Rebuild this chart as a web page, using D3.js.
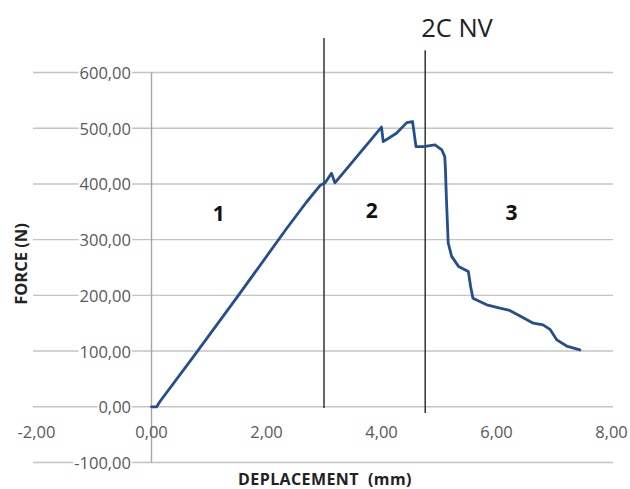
<!DOCTYPE html>
<html>
<head>
<meta charset="utf-8">
<script src="https://cdn.jsdelivr.net/npm/d3@7"></script>
<style>
  html, body { margin: 0; padding: 0; background: #fff; }
  svg { display: block; }
</style>
</head>
<body>
<svg id="chart" width="630" height="489"></svg>
<script>
// Force–displacement curve for specimen 2C NV
const displacement = [0, 0.09, 0.15, 0.73, 1.54, 2.35, 2.7, 2.93, 3.02, 3.13, 3.19, 4.0, 4.03, 4.26, 4.44, 4.54, 4.6, 4.73, 4.93, 5.05, 5.10, 5.11, 5.13, 5.16, 5.22, 5.34, 5.51, 5.55, 5.59, 5.71, 5.83, 6.06, 6.23, 6.41, 6.64, 6.81, 6.93, 7.05, 7.22, 7.45];
const force = [0, 0, 10, 90, 204, 320, 368, 397, 402, 419, 402, 502, 476, 491, 510, 512, 467, 467, 470, 461, 449, 431, 371, 294, 270, 252, 243, 216, 195, 189, 183, 177, 173, 163, 150, 147, 139, 120, 109, 102];

const xTicks = [-2, 0, 2, 4, 6, 8];
const yTicks = [-100, 0, 100, 200, 300, 400, 500, 600];

// Phase boundaries (displacement, top force, bottom force)
const boundaryX = [3.0, 4.76];
const boundaryTop = [662, 640];
const boundaryBottom = [-2, -11];

// Phase labels
const phaseNames = ["1", "2", "3"];
const phaseX = [1.17, 3.83, 6.26];
const phaseY = [348, 353, 350];

const title = "2C NV";
const xTitle = "DEPLACEMENT  (mm)";
const yTitle = "FORCE (N)";

const fmt = v => v.toFixed(2).replace(".", ",");

const svg = d3.select("#chart");
const x = d3.scaleLinear().domain([-2, 8]).range([36.5, 611.5]);
const y = d3.scaleLinear().domain([-100, 600]).range([462.5, 72.5]);

const tickFont = "'Open Sans', sans-serif";

// Horizontal gridlines
svg.append("g").selectAll("line").data(yTicks).join("line")
  .attr("x1", 33).attr("x2", 613)
  .attr("y1", d => y(d)).attr("y2", d => y(d))
  .attr("stroke", "#c4c4c4").attr("stroke-width", 1.4);

// Vertical axis line at x = 0
svg.append("line")
  .attr("x1", x(0)).attr("x2", x(0))
  .attr("y1", y(600)).attr("y2", y(-100))
  .attr("stroke", "#a6a6a6").attr("stroke-width", 1.4);

// Y tick labels, set on a white backing over the gridlines
const yLab = svg.append("g").selectAll("g").data(yTicks).join("g");
yLab.append("text")
  .attr("x", 131).attr("y", d => y(d))
  .attr("text-anchor", "end").attr("dominant-baseline", "central")
  .attr("font-family", tickFont).attr("font-size", 16.5)
  .attr("fill", "#595959")
  .text(fmt)
  .each(function() {
    const b = this.getBBox();
    d3.select(this.parentNode).insert("rect", "text")
      .attr("x", b.x - 1).attr("y", b.y + 3)
      .attr("width", b.width + 2).attr("height", b.height - 6)
      .attr("fill", "#fff");
  });

// X tick labels
svg.append("g").selectAll("text").data(xTicks).join("text")
  .attr("x", d => x(d)).attr("y", 431)
  .attr("text-anchor", "middle").attr("dominant-baseline", "central")
  .attr("font-family", tickFont).attr("font-size", 16.5)
  .attr("fill", "#595959")
  .text(fmt);

// Phase boundary lines
svg.append("g").selectAll("line").data(boundaryX).join("line")
  .attr("x1", d => x(d)).attr("x2", d => x(d))
  .attr("y1", (d, i) => y(boundaryTop[i]))
  .attr("y2", (d, i) => y(boundaryBottom[i]))
  .attr("stroke", "#333").attr("stroke-width", 1.5);

// Curve
const pts = displacement.map((d, i) => [d, force[i]]);
svg.append("path")
  .datum(pts)
  .attr("d", d3.line().x(d => x(d[0])).y(d => y(d[1])))
  .attr("fill", "none")
  .attr("stroke", "#234f8e").attr("stroke-width", 2.8)
  .attr("stroke-linejoin", "round").attr("stroke-linecap", "round");

// Phase labels
svg.append("g").selectAll("text").data(phaseNames).join("text")
  .attr("x", (d, i) => x(phaseX[i])).attr("y", (d, i) => y(phaseY[i]))
  .attr("text-anchor", "middle").attr("dominant-baseline", "central")
  .attr("font-family", tickFont).attr("font-weight", "bold").attr("font-size", 21)
  .attr("fill", "#111")
  .text(d => d);

// Title
svg.append("text")
  .attr("x", 457).attr("y", 37)
  .attr("text-anchor", "middle")
  .attr("font-family", tickFont).attr("font-size", 25.5)
  .attr("fill", "#222")
  .text(title);

// Axis titles
svg.append("text")
  .attr("x", 325).attr("y", 478.5)
  .attr("text-anchor", "middle").attr("dominant-baseline", "central")
  .attr("font-family", tickFont).attr("font-weight", "bold").attr("font-size", 16)
  .attr("letter-spacing", 0.4)
  .style("white-space", "pre")
  .attr("fill", "#222")
  .text(xTitle);

svg.append("text")
  .attr("transform", "translate(20,264) rotate(-90)")
  .attr("text-anchor", "middle").attr("dominant-baseline", "central")
  .attr("font-family", tickFont).attr("font-weight", "bold").attr("font-size", 16.5)
  .attr("fill", "#222")
  .text(yTitle);
</script>
</body>
</html>
